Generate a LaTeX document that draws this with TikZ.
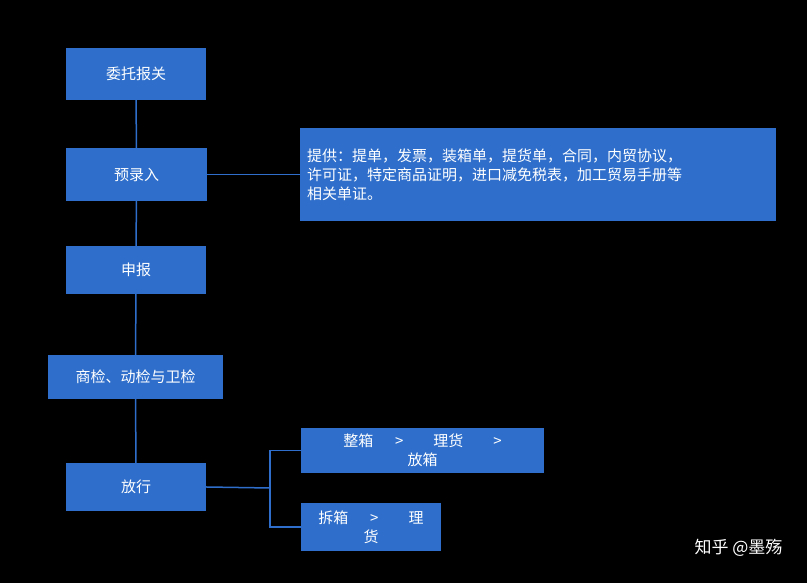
\documentclass[tikz,border=0pt]{standalone}
\usepackage{fontspec}
\newfontfamily\cjk{Noto Sans CJK SC}
\begin{document}
\begin{tikzpicture}[x=1pt,y=1pt,
  box/.style={fill=bx,draw=none,text=white,font=\cjk\fontsize{15}{19}\selectfont,inner sep=0pt},
  ln/.style={draw=bx,line width=1.5pt}]
\definecolor{bx}{HTML}{2F6FCB}
\fill[black] (0,0) rectangle (807,583);
\useasboundingbox (0,0) rectangle (807,583);
\node[box,minimum width=140,minimum height=52] (a) at (136,509) {委托报关};
\node[box,minimum width=141,minimum height=53] (b) at (136.5,408.5) {预录入};
\node[box,minimum width=140,minimum height=48] (c) at (136,313) {申报};
\node[box,minimum width=175,minimum height=44] (d) at (135.5,206) {商检、动检与卫检};
\node[box,minimum width=140,minimum height=48] (e) at (136,96) {放行};
\node[box,minimum width=476,minimum height=93,align=left,text width=462,anchor=north west] (f) at (300,455)
  {提供：提单，发票，装箱单，提货单，合同，内贸协议，\\许可证，特定商品证明，进口减免税表，加工贸易手册等\\相关单证。};
\node[box,minimum width=243,minimum height=45,align=center] (g) at (422.5,132.5) {整箱\quad\ \ >\qquad 理货\qquad >\\放箱};
\node[box,minimum width=140,minimum height=48,align=center] (h) at (371,56) {拆箱\quad\ \ >\qquad 理\\货};
\draw[ln] (a) -- (b) -- (c) -- (d) -- (e);
\draw[ln] (b.east) -- (f.west|-b.east);
\coordinate (j) at (270,95);
\draw[ln] (e.east) -- (j);
\draw[ln] (g.west) -| (j) |- (h.west);
\node[text=white,font=\cjk\fontsize{17}{20}\selectfont,anchor=east] (w) at (786,35) {知乎 @墨殇};
\end{tikzpicture}
\end{document}
